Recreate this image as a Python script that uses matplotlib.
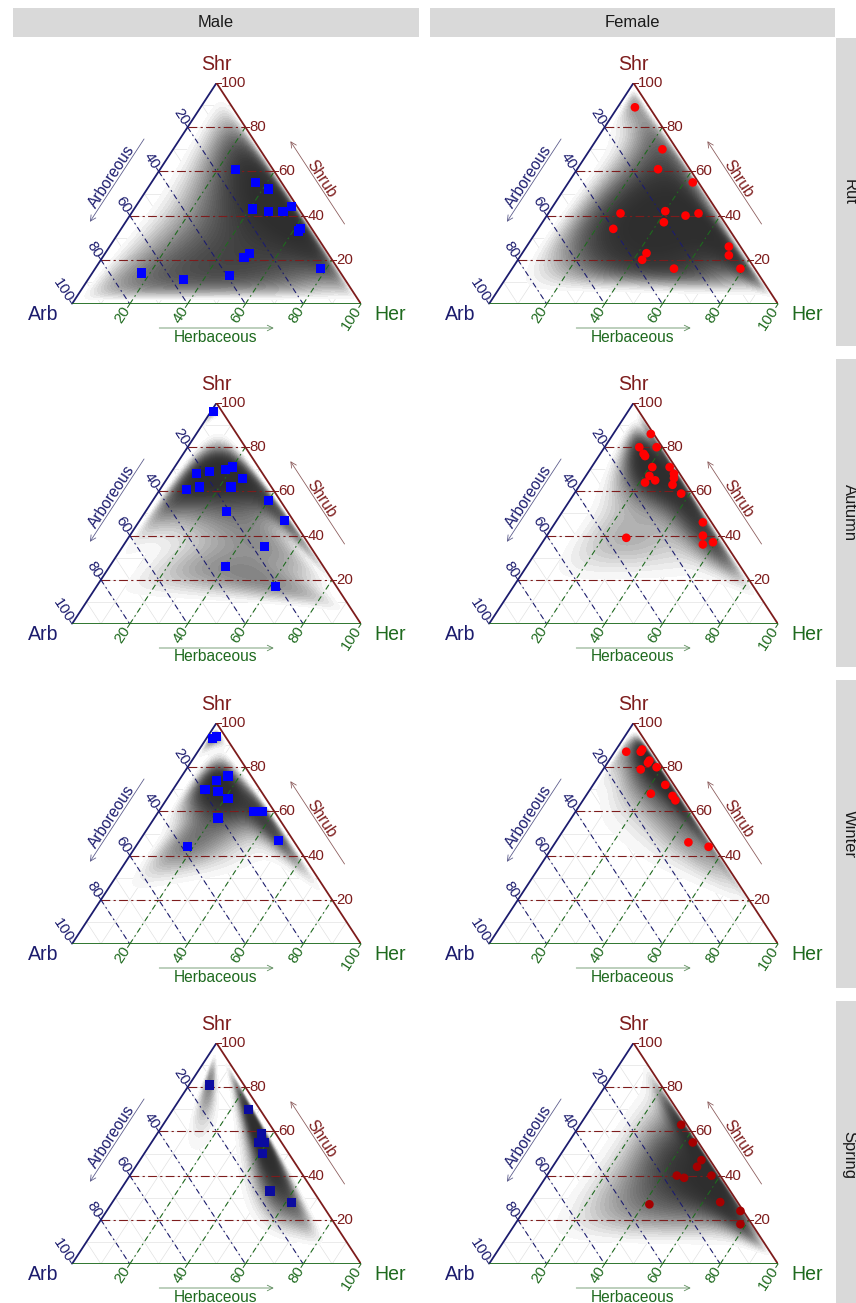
import numpy as np
import matplotlib
matplotlib.use("Agg")
import matplotlib.pyplot as plt
from matplotlib.colors import ListedColormap
from matplotlib.patches import Rectangle
from matplotlib.transforms import ScaledTranslation

W, H = 856, 1303
DPI = 72

plt.rcParams['font.family'] = ['Liberation Sans', 'DejaVu Sans']

seasons = ['Rut', 'Autumn', 'Winter', 'Spring']
sexes = ['Male', 'Female']
ticks = [20, 40, 60, 80, 100]

# composition of each observation (%): arboreous, shrub, herbaceous
rut_m_arb = [13, 9, 6, 16, 11, 6, 2, 4, 5, 27, 30, 39, 56, 69, 6]
rut_m_shr = [61, 55, 52, 43, 42, 42, 44, 34, 33, 23, 21, 13, 11, 14, 16]
rut_m_her = [26, 36, 42, 41, 47, 52, 54, 62, 62, 50, 49, 48, 33, 17, 78]

rut_f_arb = [5, 5, 11, 2, 34, 18, 12, 7, 21, 40, 34, 37, 28, 4, 6, 5]
rut_f_shr = [89, 70, 61, 55, 41, 42, 40, 41, 37, 34, 23, 20, 16, 26, 22, 16]
rut_f_her = [6, 25, 28, 43, 25, 40, 48, 52, 42, 26, 43, 43, 56, 70, 72, 79]

aut_m_arb = [3, 23, 18, 12, 9, 8, 30, 25, 14, 4, 21, 3, 16, 34, 21]
aut_m_shr = [96, 68, 69, 70, 71, 66, 61, 62, 62, 56, 51, 47, 35, 26, 17]
aut_m_her = [1, 9, 13, 18, 20, 26, 9, 13, 24, 40, 28, 50, 49, 40, 62]

aut_f_arb = [1, 8, 2, 8, 8, 8, 2, 2, 11, 10, 3, 14, 5, 4, 3, 33, 6, 4, 8]
aut_f_shr = [86, 80, 80, 77, 76, 71, 71, 68, 67, 65, 66, 64, 63, 59, 46, 39, 40, 37, 36]
aut_f_her = [13, 12, 18, 15, 16, 21, 27, 30, 22, 25, 31, 22, 32, 37, 51, 28, 54, 59, 56]

win_m_arb = [5, 3, 8, 13, 19, 15, 13, 7, 4, 21, 5, 38]
win_m_shr = [93, 94, 76, 74, 70, 69, 66, 60, 60, 57, 47, 44]
win_m_her = [2, 3, 16, 13, 11, 16, 21, 33, 36, 22, 48, 18]

win_f_arb = [9, 3, 4, 3, 4, 2, 8, 3, 10, 3, 3, 8, 2]
win_f_shr = [87, 88, 87, 83, 82, 80, 79, 72, 68, 67, 65, 46, 44]
win_f_her = [4, 9, 9, 14, 14, 18, 13, 25, 22, 30, 32, 46, 54]

spr_m_arb = [12, 4, 5, 8, 6, 9, 15, 10]
spr_m_shr = [81, 70, 59, 55, 55, 50, 33, 28]
spr_m_her = [7, 26, 36, 37, 39, 41, 52, 62]

spr_f_arb = [2, 2, 3, 6, 15, 13, 3, 6, 31, 1, 4]
spr_f_shr = [63, 55, 47, 44, 40, 39, 40, 28, 27, 24, 18]
spr_f_her = [35, 43, 50, 50, 45, 48, 57, 66, 42, 75, 78]

panels = [
    [(rut_m_arb, rut_m_shr, rut_m_her), (rut_f_arb, rut_f_shr, rut_f_her)],
    [(aut_m_arb, aut_m_shr, aut_m_her), (aut_f_arb, aut_f_shr, aut_f_her)],
    [(win_m_arb, win_m_shr, win_m_her), (win_f_arb, win_f_shr, win_f_her)],
    [(spr_m_arb, spr_m_shr, spr_m_her), (spr_f_arb, spr_f_shr, spr_f_her)],
]
point_colors = [['#0000ff', '#ff0000'], ['#0000ff', '#ff0000'],
                ['#0000ff', '#ff0000'], ['#0b0ba0', '#a50000']]
markers = ['s', 'o']

c_arb = '#1c1c6e'
c_shr = '#7d1c1c'
c_her = '#1e6a1e'

# stacked translucent bands: soft rim, broad dark core
_t = np.linspace(0, 1, 48)
density_cmap = ListedColormap([str(0.97 - 0.79 * (1 - (1 - t) ** 2.6)) for t in _t])


def to_xy(arb, shr, her):
    arb, shr, her = (np.asarray(v, dtype=float) for v in (arb, shr, her))
    tot = arb + shr + her
    shr = shr / tot * 100
    her = her / tot * 100
    return her + shr / 2, shr


def ilr(arb, shr, her):
    z1 = np.sqrt(0.5) * np.log(arb / her)
    z2 = np.sqrt(2 / 3) * np.log(np.sqrt(arb * her) / shr)
    return z1, z2


def bandwidth(v):
    q75, q25 = np.percentile(v, [75, 25])
    s = np.std(v, ddof=1)
    r = (q75 - q25) / 1.34
    b = min(s, r) if r > 0 else s
    return 1.06 * b * len(v) ** -0.2


def density(arb, shr, her, gx, gy):
    # kernel density in isometric log-ratio space, evaluated on the grid
    arb, shr, her = (np.clip(np.asarray(v, float), 0.5, None) for v in (arb, shr, her))
    p1, p2 = ilr(arb, shr, her)
    g_shr = gy
    g_her = gx - gy / 2
    g_arb = 100 - g_shr - g_her
    inside = (g_shr >= 0) & (g_her >= 0) & (g_arb >= 0)
    a = np.clip(g_arb, 0.05, None)
    s = np.clip(g_shr, 0.05, None)
    h = np.clip(g_her, 0.05, None)
    q1, q2 = ilr(a, s, h)
    b1 = bandwidth(p1) * 1.3
    b2 = bandwidth(p2) * 1.3
    z = np.zeros_like(gx)
    for u, v in zip(p1, p2):
        z += np.exp(-0.5 * (((q1 - u) / b1) ** 2 + ((q2 - v) / b2) ** 2))
    z = z / z.max()
    z[~inside] = np.nan
    return np.ma.masked_invalid(z)


fig = plt.figure(figsize=(W / DPI, H / DPI), dpi=DPI)

# strips
bg = fig.add_axes([0, 0, 1, 1])
bg.set_xlim(0, W)
bg.set_ylim(H, 0)
bg.axis('off')
for j, (x0, w) in enumerate([(13, 406), (430, 405)]):
    bg.add_patch(Rectangle((x0, 8), w, 29, facecolor='#d9d9d9', edgecolor='none'))
    bg.text(x0 + w / 2, 22.5, sexes[j], ha='center', va='center',
            fontsize=16.5, color='#1a1a1a')
for i, name in enumerate(seasons):
    y0 = 38 + 321 * i
    bg.add_patch(Rectangle((836, y0), 30, 308, facecolor='#d9d9d9', edgecolor='none'))
    bg.text(849, y0 + 154, name, ha='center', va='center', rotation=-90,
            fontsize=16.5, color='#1a1a1a')

gx, gy = np.meshgrid(np.linspace(0, 100, 520), np.linspace(0, 100, 420))


def offset(ax, dx, dy):
    return ax.transData + ScaledTranslation(dx / DPI, dy / DPI, fig.dpi_scale_trans)


def draw_panel(left, base, wpx, hpx, comp, color, marker):
    ax = fig.add_axes([left / W, 1 - base / H, wpx / W, hpx / H])
    ax.set_xlim(0, 100)
    ax.set_ylim(0, 100)
    ax.axis('off')
    sx, sy = wpx / 100, hpx / 100

    # light background mesh every 10 %
    for v in range(10, 100, 10):
        kw = dict(color='#dedede', lw=0.6, zorder=0)
        ax.plot([v / 2, 100 - v / 2], [v, v], **kw)
        ax.plot([(100 - v) / 2, 100 - v], [100 - v, 0], **kw)
        ax.plot([v, 50 + v / 2], [0, 100 - v], **kw)

    arb, shr, her = comp
    z = density(arb, shr, her, gx, gy)
    ax.contourf(gx, gy, z, levels=np.linspace(0.015, 1.0001, 49),
                cmap=density_cmap, zorder=1)

    # major grid
    for v in [20, 40, 60, 80]:
        ax.plot([v / 2, 100 - v / 2], [v, v], color=c_shr, lw=1.1,
                ls=(0, (8, 3, 2, 3)), zorder=2)
        ax.plot([(100 - v) / 2, 100 - v], [100 - v, 0], color=c_arb, lw=1.1,
                ls=(0, (5, 3, 1.5, 3)), zorder=2)
        ax.plot([v, 50 + v / 2], [0, 100 - v], color=c_her, lw=1.1,
                ls=(0, (5, 3, 1.5, 3)), zorder=2)

    # triangle edges
    ax.plot([0, 50], [0, 100], color=c_arb, lw=1.8, zorder=3, solid_capstyle='round')
    ax.plot([50, 100], [100, 0], color=c_shr, lw=1.8, zorder=3, solid_capstyle='round')
    ax.plot([0, 100], [0, 0], color=c_her, lw=1.8, zorder=3, solid_capstyle='round')

    px, py = to_xy(arb, shr, her)
    ax.scatter(px, py, marker=marker, s=85 if marker == 's' else 75,
               color=color, edgecolors='none', zorder=5, clip_on=False)

    # direction of the grid lines beyond each edge, in pixels
    la = np.array([-0.5 * sx, 1.0 * sy])
    la = la / np.hypot(*la)
    lh = np.array([-0.5 * sx, -1.0 * sy])
    lh = lh / np.hypot(*lh)
    ang = np.degrees(np.arctan2(la[1], la[0]))   # about 123 degrees
    slope = 180 - ang                              # about 57 degrees

    for v in ticks:
        # shrub ticks on the right edge
        x, y = 100 - v / 2, v
        ax.plot([x, x + 4 / sx], [y, y], color=c_shr, lw=1, zorder=3, clip_on=False)
        ax.text(x, y, str(v), transform=offset(ax, 4, 0), ha='left', va='center',
                fontsize=15, color=c_shr)
        # arboreous ticks on the left edge
        x, y = (100 - v) / 2, 100 - v
        ax.plot([x, x + 4 * la[0] / sx], [y, y + 4 * la[1] / sy], color=c_arb,
                lw=1, zorder=3, clip_on=False)
        ax.text(x, y, str(v), transform=offset(ax, 4 * la[0], 4 * la[1]),
                rotation=-slope, rotation_mode='anchor', ha='right',
                va='center', fontsize=15, color=c_arb)
        # herbaceous ticks on the bottom edge
        x, y = v, 0
        ax.plot([x, x + 4 * lh[0] / sx], [y, y + 4 * lh[1] / sy], color=c_her,
                lw=1, zorder=3, clip_on=False)
        ax.text(x, y, str(v), transform=offset(ax, 4 * lh[0], 4 * lh[1]),
                rotation=slope, rotation_mode='anchor', ha='right',
                va='center', fontsize=15, color=c_her)

    # vertex names
    ax.text(50, 100, 'Shr', transform=offset(ax, 0, 19), ha='center', va='center',
            fontsize=19.5, color=c_shr)
    ax.text(0, 0, 'Arb', transform=offset(ax, -29, -11), ha='center', va='center',
            fontsize=19.5, color=c_arb)
    ax.text(100, 0, 'Her', transform=offset(ax, 29, -11), ha='center', va='center',
            fontsize=19.5, color=c_her)

    # axis arrows and titles
    edge = np.array([50 * sx, 100 * sy])
    edge_len = np.hypot(*edge)
    nl = np.array([-edge[1], edge[0]]) / edge_len      # outward normal, left edge
    nr = np.array([edge[1], edge[0]]) / edge_len       # outward normal, right edge
    arrow_kw = dict(arrowstyle='->', lw=0.8, mutation_scale=14)

    # Arboreous: along left edge, pointing down to the Arb corner
    t0, t1 = 0.68, 0.29
    ax.annotate('', xy=(50 * t1, 100 * t1), xytext=(50 * t0, 100 * t0),
                xycoords=offset(ax, 30 * nl[0], 30 * nl[1]),
                textcoords=offset(ax, 30 * nl[0], 30 * nl[1]),
                arrowprops=dict(color='#5a5a8a', **arrow_kw))
    ax.text(50 * 0.485, 100 * 0.485, 'Arboreous',
            transform=offset(ax, 36 * nl[0], 36 * nl[1]),
            rotation=slope, rotation_mode='anchor', ha='center',
            va='center', fontsize=15.5, color=c_arb)

    # Shrub: along right edge, pointing up to the Shr corner
    t0, t1 = 0.28, 0.67
    ax.annotate('', xy=(100 - 50 * t1, 100 * t1), xytext=(100 - 50 * t0, 100 * t0),
                xycoords=offset(ax, 30 * nr[0], 30 * nr[1]),
                textcoords=offset(ax, 30 * nr[0], 30 * nr[1]),
                arrowprops=dict(color='#8a5a5a', **arrow_kw))
    ax.text(100 - 50 * 0.48, 100 * 0.48, 'Shrub',
            transform=offset(ax, 35 * nr[0], 35 * nr[1]),
            rotation=-slope, rotation_mode='anchor', ha='center',
            va='center', fontsize=15.5, color=c_shr)

    # Herbaceous: below the base, pointing right to the Her corner
    ax.annotate('', xy=(70.5, 0), xytext=(29.5, 0),
                xycoords=offset(ax, 0, -24), textcoords=offset(ax, 0, -24),
                arrowprops=dict(color='#5a8a5a', **arrow_kw))
    ax.text(49.5, 0, 'Herbaceous', transform=offset(ax, 0, -33), ha='center',
            va='center', fontsize=15.5, color=c_her)


for i in range(4):
    for j in range(2):
        left = 72 + 417 * j
        base = 304 + 320 * i
        draw_panel(left, base, 289, 221, panels[i][j], point_colors[i][j], markers[j])

fig.savefig('out.png', dpi=DPI, facecolor='white')
